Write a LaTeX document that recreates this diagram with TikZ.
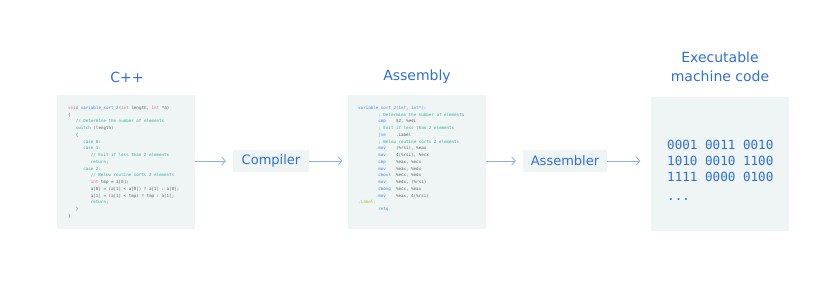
\documentclass[tikz,border=0pt]{standalone}
\usepackage{fontspec}
\setmainfont{DejaVu Sans}
\setmonofont{DejaVu Sans Mono}
\usepackage{xcolor}
\usetikzlibrary{arrows.meta, positioning}

\definecolor{titleblue}{HTML}{2E6FD8}
\definecolor{boxfill}{HTML}{EFF4F5}
\definecolor{arrowblue}{HTML}{8AAEE8}
\definecolor{codegray}{HTML}{5A5F66}
\definecolor{codepink}{HTML}{E0708A}
\definecolor{codeblue}{HTML}{4A86DA}
\definecolor{codeteal}{HTML}{3AAE9C}
\definecolor{codelime}{HTML}{A9B83E}

\newlength\codech
\setlength\codech{2.52pt}
\newcommand{\codeind}[1]{\hspace*{#1\codech}}
\newcommand{\cppkw}[1]{\textcolor{codepink}{#1}}
\newcommand{\fnname}[1]{\textcolor{codeblue}{#1}}
\newcommand{\cmt}[1]{\textcolor{codeteal}{#1}}
\newcommand{\lbl}[1]{\textcolor{codelime}{#1}}
\newcommand{\asmop}[2]{\makebox[7\codech][l]{\textcolor{codeblue}{#1}}#2}

\tikzset{
    panel/.style={fill=boxfill, minimum width=138pt, minimum height=134pt, inner sep=0pt},
    stage/.style={fill=boxfill, text=titleblue, font=\fontsize{13}{15}\selectfont,
        minimum height=22pt, inner sep=0pt},
    heading/.style={text=titleblue, font=\fontsize{14}{19}\selectfont, align=center},
    code/.style={anchor=north west, align=left, inner sep=0pt, text=codegray,
        font=\ttfamily\fontsize{4.2}{6.75}\selectfont},
    flow/.style={-{Straight Barb[length=3.5pt, width=8pt]}, arrowblue, line width=0.8pt}
}

\begin{document}
\begin{tikzpicture}[x=1pt, y=-1pt]
    \useasboundingbox (0,0) rectangle (831,295);

    % panels and stages
    \node[panel] (cpp) at (126,162) {};
    \node[stage, minimum width=76pt] (compiler) at (271,161) {Compiler};
    \node[panel] (asm) at (416.5,162) {};
    \node[stage, minimum width=84pt] (assembler) at (565,161) {Assembler};
    \node[panel] (mach) at (719.5,163.5) {};

    % headings
    \node[heading] (cpptitle) at (127,77) {C++};
    \node[heading] (asmtitle) at (417,77) {Assembly};
    \node[heading] (machtitle) at (720,67) {Executable\\machine code};

    % arrows
    \draw[flow, shorten >=7pt] (cpp.east |- compiler) -- (compiler.west);
    \draw[flow, shorten >=5pt] (compiler.east) -- (asm.west |- compiler);
    \draw[flow, shorten >=7pt] (asm.east |- assembler) -- (assembler.west);
    \draw[flow, shorten >=10pt] (assembler.east) -- (mach.west |- assembler);

    % source code
    \node[code] (cppcode) at (68,106) {%
        \cppkw{void} \fnname{variable\_sort\_2}(\cppkw{int} length, \cppkw{int} *a)\\
        \{\\
        \codeind{3}\cmt{// Determine the number of elements}\\
        \codeind{3}\cmt{switch} (length)\\
        \codeind{3}\{\\
        \codeind{6}\cmt{case 0:}\\
        \codeind{6}\cmt{case 1:}\\
        \codeind{9}\cmt{// Exit if less than 2 elements}\\
        \codeind{9}\cmt{return;}\\
        \codeind{6}\cmt{case 2:}\\
        \codeind{9}\cmt{// Below routine sorts 2 elements}\\
        \codeind{9}\cppkw{int} tmp = a[0];\\
        \codeind{9}a[0] = (a[1] < a[0]) ? a[1] : a[0];\\
        \codeind{9}a[1] = (a[1] < tmp) ? tmp : a[1];\\
        \codeind{9}\cmt{return;}\\
        \codeind{3}\}\\
        \}};

    \node[code] (asmcode) at (358,106) {%
        \fnname{variable\_sort\_2(int, int*):}\\
        \codeind{8}\cmt{; Determine the number of elements}\\
        \codeind{8}\asmop{cmp}{\$2, \%edi}\\
        \codeind{8}\cmt{; Exit if less than 2 elements}\\
        \codeind{8}\asmop{jne}{.Label}\\
        \codeind{8}\cmt{; Below routine sorts 2 elements}\\
        \codeind{8}\asmop{mov}{(\%rsi), \%eax}\\
        \codeind{8}\asmop{mov}{4(\%rsi), \%ecx}\\
        \codeind{8}\asmop{cmp}{\%eax, \%ecx}\\
        \codeind{8}\asmop{mov}{\%eax, \%edx}\\
        \codeind{8}\asmop{cmovl}{\%ecx, \%edx}\\
        \codeind{8}\asmop{mov}{\%edx, (\%rsi)}\\
        \codeind{8}\asmop{cmovg}{\%ecx, \%eax}\\
        \codeind{8}\asmop{mov}{\%eax, 4(\%rsi)}\\
        \lbl{.Label:}\\
        \codeind{8}\fnname{retq}};

    \node[code, text=titleblue, font=\ttfamily\fontsize{12.6}{16}\selectfont]
        (machcode) at (667,139.5) {0001 0011 0010\\1010 0010 1100\\1111 0000 0100\\[3pt]...};
\end{tikzpicture}
\end{document}
